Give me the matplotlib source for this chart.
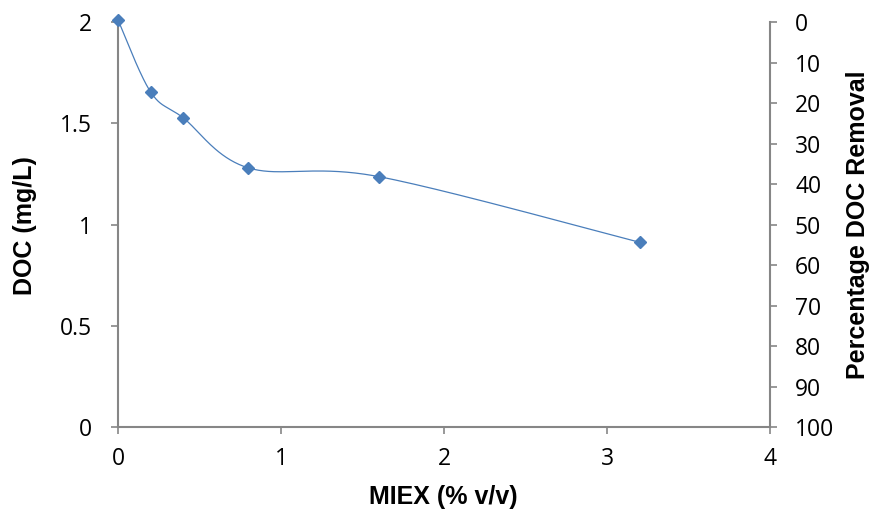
import numpy as np
import matplotlib
matplotlib.use("Agg")
import matplotlib.pyplot as plt

# data
miex = [0, 0.2, 0.4, 0.8, 1.6, 3.2]
doc = [2.01, 1.655, 1.527, 1.28, 1.237, 0.913]

x_ticks = [0, 1, 2, 3, 4]
y_ticks = [0, 0.5, 1, 1.5, 2]
y_tick_labels = ["0", "0.5", "1", "1.5", "2"]
pct_ticks = list(range(0, 101, 10))

AX_COL = "#868686"
LINE_COL = "#4a7ebb"
TICK_FONT = ["Open Sans", "Liberation Sans", "DejaVu Sans"]
LABEL_FONT = ["Liberation Sans", "DejaVu Sans"]


def smooth_curve(xs, ys, sx, sy, n=40):
    """Excel-like smoothed line: cubic Bezier with Catmull-Rom control points,
    computed in a pixel-like scaled space."""
    p = np.column_stack([np.asarray(xs) * sx, np.asarray(ys) * sy])
    pts = np.vstack([p[0], p, p[-1]])
    out = []
    t = np.linspace(0, 1, n)[:, None]
    for i in range(1, len(pts) - 2):
        p0, p1, p2, p3 = pts[i - 1], pts[i], pts[i + 1], pts[i + 2]
        c1 = p1 + (p2 - p0) / 6
        c2 = p2 - (p3 - p1) / 6
        seg = ((1 - t) ** 3) * p1 + 3 * ((1 - t) ** 2) * t * c1 + 3 * (1 - t) * t ** 2 * c2 + t ** 3 * p2
        out.append(seg)
    out = np.vstack(out)
    return out[:, 0] / sx, out[:, 1] / sy


fig = plt.figure(figsize=(8.75, 5.14), dpi=100)
ax = fig.add_axes([0.1349, 0.169, 0.7451, 0.788])

cx, cy = smooth_curve(miex, doc, 163, 202.5)
ax.plot(cx, cy, color=LINE_COL, lw=0.9, zorder=2)
ax.plot(miex, doc, "D", color=LINE_COL, ms=6, zorder=3, clip_on=False)

ax.set_xlim(0, 4)
ax.set_ylim(0, 2)
ax.set_xticks(x_ticks)
ax.set_yticks(y_ticks)
ax.set_yticklabels(y_tick_labels)

for side in ["top", "right"]:
    ax.spines[side].set_visible(False)
for side in ["left", "bottom"]:
    ax.spines[side].set_color(AX_COL)
    ax.spines[side].set_linewidth(1.5)
ax.tick_params(axis="both", colors=AX_COL, direction="out", length=5, width=1.2,
               labelcolor="black", labelsize=16.5)
ax.tick_params(axis="y", pad=14)
ax.tick_params(axis="x", pad=9)

ax2 = ax.twinx()
ax2.set_ylim(100, 0)
ax2.set_yticks(pct_ticks)
for side in ["top", "left", "bottom"]:
    ax2.spines[side].set_visible(False)
ax2.spines["right"].set_color(AX_COL)
ax2.spines["right"].set_linewidth(1.5)
ax2.tick_params(axis="y", colors=AX_COL, direction="out", length=5, width=1.2,
                labelcolor="black", labelsize=16.5, pad=13)

for lab in ax.get_xticklabels() + ax.get_yticklabels() + ax2.get_yticklabels():
    lab.set_family(TICK_FONT)

lab_kw = dict(fontsize=18, fontweight="bold", family=LABEL_FONT)
fig.text(443 / 875, 1 - 497 / 514, "MIEX (% v/v)", ha="center", va="center", **lab_kw)
fig.text(25 / 875, 1 - 226 / 514, "DOC (mg/L)", rotation=90, ha="center", va="center", **lab_kw)
fig.text(858 / 875, 1 - 225 / 514, "Percentage DOC Removal", rotation=90,
         ha="center", va="center", **lab_kw)

fig.savefig("out.png", dpi=100)
